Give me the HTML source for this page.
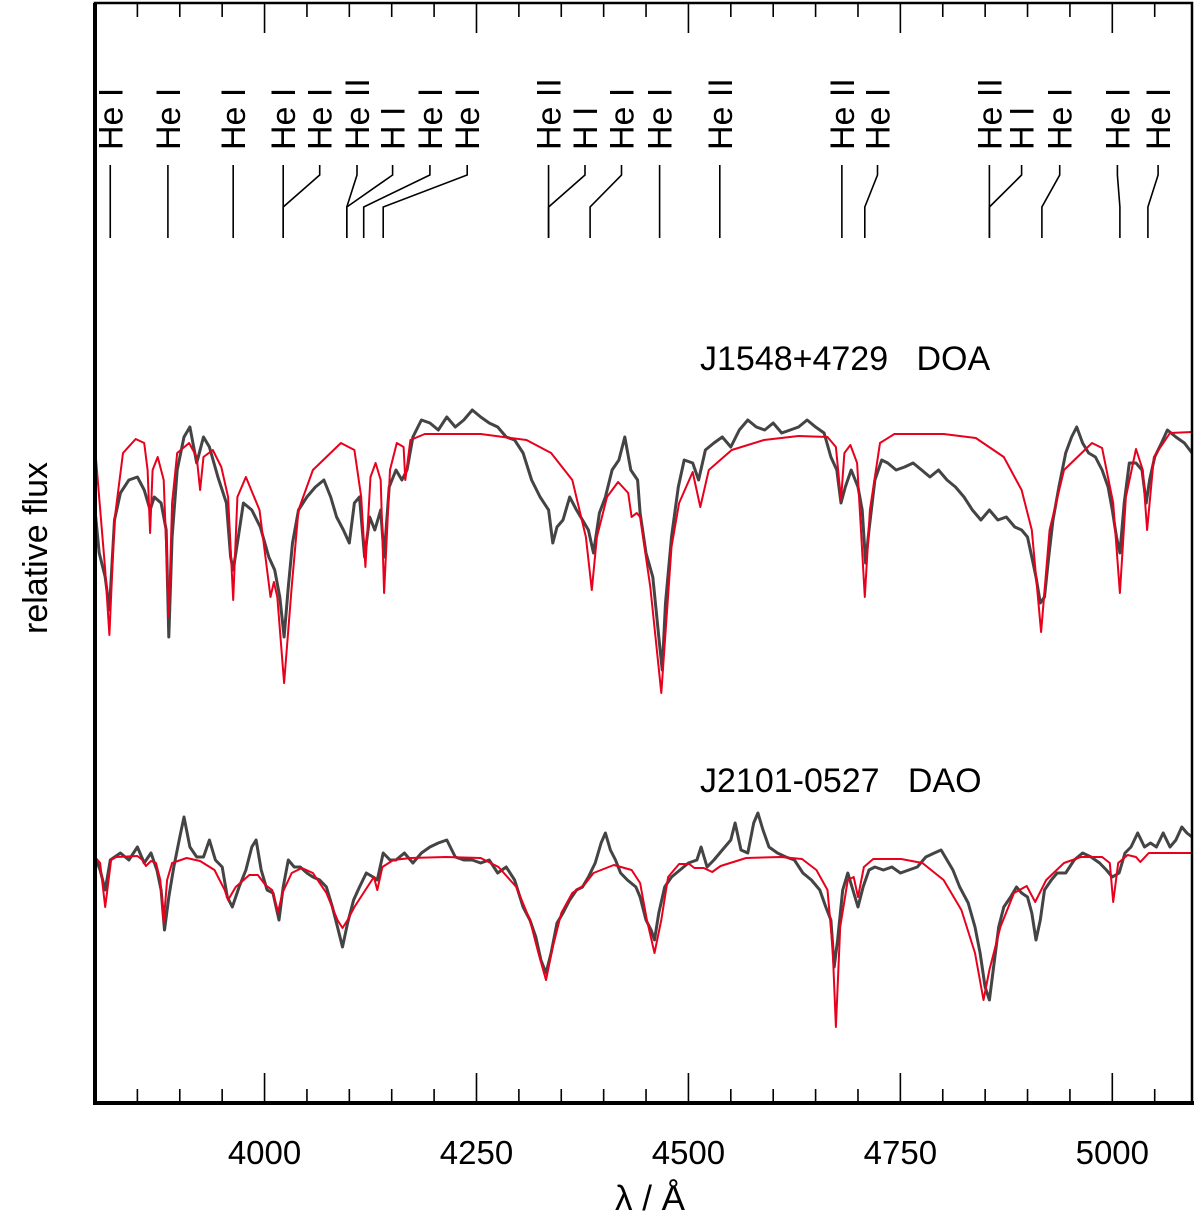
<!DOCTYPE html>
<html><head><meta charset="utf-8"><style>
html,body{margin:0;padding:0;background:#fff;}
svg{display:block;font-family:"Liberation Sans",sans-serif;}
.pre{white-space:pre;}
</style></head><body>
<svg id="chart" width="1200" height="1221" viewBox="0 0 1200 1221" xmlns="http://www.w3.org/2000/svg">
<g id="lines-id"></g>
<g id="series"></g>
<g id="axes"></g>
<text class="pre" xml:space="preserve" x="700" y="370" font-size="34">J1548+4729   DOA</text>
<text class="pre" xml:space="preserve" x="700" y="792" font-size="34">J2101-0527   DAO</text>
<text x="650" y="1210" font-size="35" text-anchor="middle">λ / Å</text>
<text x="0" y="0" font-size="34" text-anchor="middle" transform="translate(47,548) rotate(-90)">relative flux</text>
</svg>
<script>
const xTicks=[4000,4250,4500,4750,5000];
const idNames=["He I","He I","He I","He I","He I","He II","H I","He I","He I","He II","H I","He I","He I","He II","He II","He I","He II","H I","He I","He I","He I"];
const idLabelLam=[3818,3886,3963,4022,4065,4109,4151,4195,4239,4335,4378,4421,4466,4537,4681,4723,4855,4893,4938,5006,5054];
const idLineLam=[3818,3886,3963,4022,4022,4097,4097,4117,4140,4335,4335,4384,4466,4537,4681,4708,4855,4855,4917,5009,5042];

const doaModelLam=[3800,3812,3817,3823,3833,3848,3858,3862,3865,3868,3874,3881,3887,3891,3897,3911,3920,3924,3928,3939,3949,3957,3963,3968,3978,3994,4007,4011,4015,4023,4032,4040,4057,4090,4106,4114,4119,4125,4131,4137,4141,4148,4156,4164,4166,4172,4189,4255,4309,4338,4363,4379,4386,4392,4404,4417,4429,4433,4439,4443,4455,4468,4480,4489,4505,4514,4524,4551,4589,4630,4664,4674,4680,4684,4691,4699,4708,4714,4726,4743,4801,4839,4872,4893,4905,4916,4926,4943,4976,4988,5001,5009,5016,5028,5036,5041,5049,5068,5094];
const doaModelFlux=[6.56,5.33,4.68,5.83,6.50,6.64,6.60,6.33,5.70,6.33,6.46,6.23,4.86,6.00,6.50,6.60,6.46,6.13,6.46,6.53,6.36,6.06,5.03,6.06,6.26,5.93,5.06,5.21,5.06,4.20,5.16,5.93,6.33,6.60,6.53,6.06,5.36,6.26,6.40,6.23,5.10,6.33,6.60,6.56,6.23,6.63,6.69,6.69,6.63,6.50,6.23,5.66,5.13,5.66,6.06,6.21,6.10,5.86,5.90,5.86,5.16,4.10,5.56,6.00,6.31,5.96,6.33,6.53,6.63,6.67,6.66,6.56,6.03,6.50,6.58,6.40,5.06,5.93,6.60,6.69,6.69,6.65,6.46,6.13,5.73,4.71,5.73,6.33,6.60,6.55,6.00,5.10,6.06,6.54,6.33,5.73,6.46,6.70,6.71];

const doaObsLam=[3800,3805,3812,3817,3823,3830,3840,3850,3858,3865,3870,3878,3884,3887,3891,3897,3905,3912,3920,3928,3935,3945,3955,3960,3963,3968,3975,3985,3995,4005,4012,4018,4023,4028,4033,4040,4050,4060,4070,4078,4085,4093,4100,4106,4112,4118,4124,4130,4137,4141,4147,4155,4162,4168,4175,4185,4195,4205,4215,4225,4235,4245,4255,4265,4275,4285,4295,4305,4315,4325,4335,4340,4345,4352,4360,4368,4375,4382,4388,4395,4402,4410,4418,4425,4432,4440,4443,4450,4458,4465,4469,4473,4480,4488,4495,4505,4512,4520,4530,4540,4550,4560,4570,4580,4590,4600,4610,4620,4630,4640,4650,4660,4668,4675,4680,4685,4692,4700,4705,4709,4713,4720,4728,4735,4745,4755,4765,4775,4785,4795,4805,4815,4825,4835,4845,4855,4865,4875,4885,4893,4900,4905,4910,4915,4920,4925,4930,4937,4945,4952,4958,4965,4972,4980,4988,4995,5000,5005,5009,5014,5020,5028,5035,5040,5044,5050,5058,5065,5075,5085,5094];
const doaObsFlux=[5.93,5.50,5.26,4.93,5.83,6.10,6.23,6.26,6.13,5.93,6.06,6.00,5.73,4.66,5.66,6.33,6.66,6.76,6.40,6.66,6.56,6.26,6.00,5.46,5.33,5.60,6.00,5.93,5.76,5.46,5.33,5.06,4.66,5.16,5.60,5.93,6.06,6.16,6.23,6.06,5.86,5.73,5.60,6.00,6.06,5.46,5.86,5.73,5.93,5.46,6.16,6.33,6.23,6.33,6.66,6.83,6.80,6.73,6.86,6.76,6.83,6.93,6.86,6.80,6.76,6.66,6.63,6.50,6.23,6.06,5.93,5.60,5.76,5.83,6.06,5.93,5.83,5.73,5.50,5.90,6.06,6.33,6.43,6.66,6.33,6.23,5.90,5.50,5.26,4.66,4.33,5.00,5.66,6.16,6.43,6.40,6.23,6.53,6.60,6.66,6.56,6.73,6.83,6.76,6.73,6.80,6.70,6.73,6.76,6.83,6.76,6.70,6.46,6.33,6.00,6.16,6.33,6.16,5.93,5.40,5.73,6.23,6.43,6.40,6.33,6.36,6.40,6.33,6.26,6.33,6.23,6.16,6.06,5.93,5.83,5.93,5.83,5.86,5.76,5.73,5.66,5.46,5.26,5.00,5.06,5.46,5.83,6.16,6.50,6.66,6.76,6.60,6.50,6.46,6.33,6.16,5.93,5.66,5.50,6.00,6.40,6.40,6.33,6.00,6.23,6.46,6.60,6.73,6.66,6.60,6.50];

const daoModelLam=[3800,3806,3812,3819,3825,3850,3856,3860,3866,3872,3877,3881,3885,3891,3908,3924,3941,3953,3957,3966,3982,3992,4001,4009,4016,4021,4032,4044,4057,4073,4086,4092,4098,4106,4119,4129,4133,4139,4152,4172,4214,4255,4276,4297,4313,4323,4332,4340,4350,4363,4377,4388,4412,4433,4443,4451,4460,4468,4476,4489,4501,4507,4518,4528,4538,4568,4609,4634,4651,4664,4670,4674,4679,4688,4695,4700,4707,4718,4751,4776,4801,4822,4838,4848,4855,4868,4884,4899,4909,4922,4943,4963,4988,4997,5001,5007,5018,5028,5033,5043,5094];
const daoModelFlux=[2.46,2.40,1.96,2.43,2.46,2.47,2.43,2.37,2.42,2.40,2.23,1.81,2.23,2.40,2.45,2.42,2.33,2.13,2.03,2.16,2.28,2.28,2.18,2.13,1.91,2.10,2.30,2.35,2.30,2.10,1.83,1.75,1.83,1.96,2.13,2.26,2.13,2.36,2.43,2.45,2.46,2.45,2.36,2.16,1.83,1.50,1.23,1.56,1.90,2.10,2.18,2.30,2.38,2.33,2.20,1.83,1.50,1.83,2.26,2.39,2.39,2.35,2.35,2.31,2.37,2.45,2.46,2.44,2.33,2.13,1.56,0.76,1.76,2.23,2.26,2.06,2.36,2.44,2.44,2.40,2.23,1.93,1.50,1.03,1.33,1.76,2.10,2.17,2.01,2.23,2.40,2.46,2.46,2.40,2.01,2.40,2.48,2.46,2.41,2.50,2.50];

const daoObsLam=[3800,3806,3812,3818,3830,3840,3850,3858,3866,3873,3878,3882,3887,3893,3900,3905,3912,3920,3928,3935,3942,3950,3956,3962,3970,3978,3985,3990,3996,4003,4010,4017,4022,4028,4035,4042,4050,4057,4065,4073,4080,4086,4092,4098,4105,4112,4120,4128,4133,4140,4148,4155,4165,4175,4185,4195,4205,4215,4225,4235,4245,4255,4265,4275,4285,4295,4305,4313,4320,4326,4332,4338,4345,4352,4360,4368,4375,4382,4390,4397,4402,4408,4414,4420,4428,4438,4443,4450,4456,4460,4465,4472,4480,4490,4500,4510,4515,4522,4530,4540,4550,4555,4562,4570,4577,4582,4588,4595,4605,4615,4625,4635,4645,4655,4662,4668,4672,4676,4682,4688,4694,4700,4706,4713,4720,4730,4740,4750,4760,4770,4780,4790,4798,4805,4812,4820,4830,4838,4844,4850,4855,4860,4866,4872,4880,4887,4893,4900,4905,4910,4915,4920,4928,4935,4945,4955,4965,4975,4985,4993,5000,5008,5015,5022,5030,5038,5045,5052,5060,5068,5075,5082,5088,5094];
const daoObsFlux=[2.46,2.33,2.13,2.43,2.50,2.43,2.56,2.40,2.50,2.33,2.13,1.73,2.06,2.36,2.66,2.86,2.56,2.46,2.46,2.63,2.43,2.36,2.06,1.96,2.16,2.33,2.56,2.63,2.33,2.13,2.10,1.83,2.16,2.43,2.36,2.36,2.30,2.26,2.23,2.16,1.96,1.76,1.56,1.80,2.03,2.16,2.30,2.26,2.23,2.50,2.43,2.43,2.50,2.40,2.50,2.56,2.60,2.63,2.46,2.43,2.43,2.40,2.43,2.30,2.36,2.23,1.96,1.83,1.66,1.43,1.30,1.50,1.80,1.90,2.03,2.13,2.16,2.26,2.40,2.60,2.70,2.53,2.43,2.30,2.23,2.16,2.06,1.83,1.73,1.63,1.90,2.16,2.26,2.33,2.40,2.43,2.56,2.36,2.43,2.53,2.63,2.80,2.53,2.50,2.80,2.90,2.73,2.56,2.50,2.46,2.43,2.30,2.23,2.13,1.96,1.83,1.36,1.63,2.13,2.30,2.13,1.96,2.16,2.33,2.36,2.33,2.36,2.30,2.33,2.36,2.46,2.50,2.53,2.43,2.33,2.16,2.00,1.76,1.50,1.16,1.03,1.36,1.76,1.96,2.06,2.16,2.10,2.06,1.90,1.63,1.83,2.13,2.23,2.30,2.30,2.43,2.50,2.46,2.40,2.33,2.26,2.30,2.50,2.56,2.70,2.56,2.60,2.56,2.70,2.56,2.63,2.76,2.70,2.66];

const NS="http://www.w3.org/2000/svg";
const X0=95,X1=1192,Y0=3,Y1=1103,L0=3800,L1=5094;
function xs(l){return X0+(l-L0)/(L1-L0)*(X1-X0);}
function ys(f){return Y1-f*100;}
function mk(tag,attrs,parent){const e=document.createElementNS(NS,tag);for(const k in attrs)e.setAttribute(k,attrs[k]);parent.appendChild(e);return e;}

const series=document.getElementById('series');
function drawLine(lam,flux,color,w,name){
  let d='';
  for(let i=0;i<lam.length;i++){d+=(i?'L':'M')+xs(lam[i]).toFixed(1)+','+ys(flux[i]).toFixed(1);}
  const p=mk('path',{d:d,fill:'none',stroke:color,'stroke-width':w,'stroke-linejoin':'round'},series);
  
  
}
drawLine(doaObsLam,doaObsFlux,'#444',3,'doa-observed-spectrum');
drawLine(doaModelLam,doaModelFlux,'#e8001c',2,'doa-model-spectrum');
drawLine(daoObsLam,daoObsFlux,'#444',3,'dao-observed-spectrum');
drawLine(daoModelLam,daoModelFlux,'#e8001c',2,'dao-model-spectrum');

const ids=document.getElementById('lines-id');
for(let i=0;i<idNames.length;i++){
  const lx=xs(idLabelLam[i]),tx=xs(idLineLam[i]);
  const t=mk('text',{x:0,y:0,'font-size':34,transform:'translate('+(lx+12).toFixed(1)+',150) rotate(-90)'},ids);
  t.textContent=idNames[i];
  
  
  let d;
  if(Math.abs(lx-tx)<1){d='M'+lx+',165L'+lx+',238';}
  else{d='M'+lx.toFixed(1)+',165L'+lx.toFixed(1)+',175L'+tx.toFixed(1)+',207L'+tx.toFixed(1)+',238';}
  const p=mk('path',{d:d,fill:'none',stroke:'#000','stroke-width':1.6},ids);
  
  
}

const axes=document.getElementById('axes');
const fr=mk('rect',{x:X0,y:Y0,width:X1-X0,height:Y1-Y0,fill:'none',stroke:'#000','stroke-width':2.5},axes);


mk('line',{x1:X0,y1:Y0,x2:X0,y2:Y1+2,stroke:'#000','stroke-width':4},axes);
mk('line',{x1:X0-2,y1:Y1,x2:X1+2,y2:Y1,stroke:'#000','stroke-width':4},axes);
for(let l=3850;l<=L1;l+=50){
  const x=xs(l),major=(l%250===0);
  const len=major?30:14;
  const t1=mk('line',{x1:x,y1:Y1,x2:x,y2:Y1-len,stroke:'#000','stroke-width':1.6},axes);
  
  
  const t2=mk('line',{x1:x,y1:Y0,x2:x,y2:Y0+len,stroke:'#000','stroke-width':1.6},axes);
  
  
}
xTicks.forEach(v=>{
  const t=mk('text',{x:xs(v),y:1164,'font-size':33,'text-anchor':'middle'},axes);
  t.textContent=v;
  
  
});
</script>
</body></html>
